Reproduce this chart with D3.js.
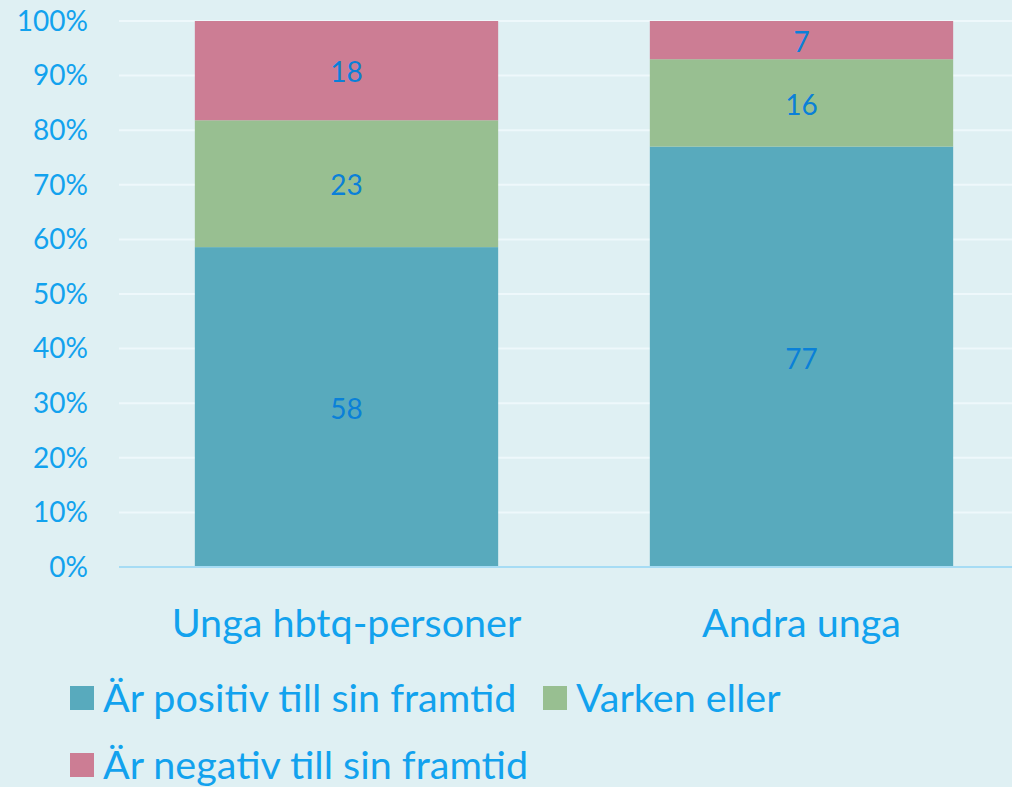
<!DOCTYPE html>
<html>
<head>
<meta charset="utf-8">
<script src="https://cdn.jsdelivr.net/npm/d3@7"></script>
<style>
  body { margin: 0; background: #dff0f3; }
  svg { display: block; font-family: Lato, "Open Sans", sans-serif; }
</style>
</head>
<body>
<script>
const width = 1012;
const height = 787;

const categories = ["Unga hbtq-personer", "Andra unga"];
const seriesNames = ["Är positiv till sin framtid", "Varken eller", "Är negativ till sin framtid"];
const positive = [58, 77];
const neither = [23, 16];
const negative = [18, 7];
const yTicks = [0, 0.1, 0.2, 0.3, 0.4, 0.5, 0.6, 0.7, 0.8, 0.9, 1];

const colors = ["#58aabd", "#98bf91", "#cc7d94"];
const textColor = "#12a2ee";
const labelColor = "#0a80d8";

const rows = categories.map((c, i) => ({
  category: c,
  [seriesNames[0]]: positive[i],
  [seriesNames[1]]: neither[i],
  [seriesNames[2]]: negative[i]
}));

const stack = d3.stack().keys(seriesNames).offset(d3.stackOffsetExpand);
const series = stack(rows);

const x = d3.scaleBand()
  .domain(categories)
  .range([119, 1029])
  .paddingInner(1 / 3)
  .paddingOuter(1 / 6);

const y = d3.scaleLinear()
  .domain([0, 1])
  .range([567, 21]);

const svg = d3.select("body")
  .append("svg")
  .attr("width", width)
  .attr("height", height);

// gridlines
svg.append("g")
  .selectAll("line")
  .data(yTicks.filter(d => d > 0))
  .join("line")
  .attr("x1", 119)
  .attr("x2", width)
  .attr("y1", d => y(d))
  .attr("y2", d => y(d))
  .attr("stroke", "#eef8fb")
  .attr("stroke-width", 2);

// bars
svg.append("g")
  .selectAll("g")
  .data(series)
  .join("g")
  .attr("fill", (d, i) => colors[i])
  .selectAll("rect")
  .data(d => d)
  .join("rect")
  .attr("x", d => x(d.data.category))
  .attr("width", x.bandwidth())
  .attr("y", d => y(d[1]))
  .attr("height", d => y(d[0]) - y(d[1]));

// baseline
svg.append("line")
  .attr("x1", 119)
  .attr("x2", width)
  .attr("y1", y(0))
  .attr("y2", y(0))
  .attr("stroke", "#a6dcf4")
  .attr("stroke-width", 2);

// data labels
svg.append("g")
  .selectAll("g")
  .data(series)
  .join("g")
  .selectAll("text")
  .data(d => d.map(p => ({ p, key: d.key })))
  .join("text")
  .attr("x", d => x(d.p.data.category) + x.bandwidth() / 2)
  .attr("y", d => y((d.p[0] + d.p[1]) / 2) + 2)
  .attr("dy", "0.35em")
  .attr("text-anchor", "middle")
  .attr("fill", labelColor)
  .attr("font-size", 28)
  .text(d => d.p.data[d.key]);

// y axis labels
svg.append("g")
  .selectAll("text")
  .data(yTicks)
  .join("text")
  .attr("x", 88)
  .attr("y", d => y(d))
  .attr("dy", "0.35em")
  .attr("text-anchor", "end")
  .attr("fill", textColor)
  .attr("font-size", 28)
  .text(d => d3.format(".0%")(d));

// category labels
svg.append("g")
  .selectAll("text")
  .data(categories)
  .join("text")
  .attr("x", d => x(d) + x.bandwidth() / 2)
  .attr("y", 623)
  .attr("dy", "0.35em")
  .attr("text-anchor", "middle")
  .attr("fill", textColor)
  .attr("font-size", 39.5)
  .text(d => d);

// legend
const legendPos = [[70, 698], [543, 698], [70, 765]];
const legend = svg.append("g")
  .selectAll("g")
  .data(seriesNames)
  .join("g")
  .attr("transform", (d, i) => `translate(${legendPos[i][0]},${legendPos[i][1]})`);

legend.append("rect")
  .attr("x", 0)
  .attr("y", -12)
  .attr("width", 24)
  .attr("height", 24)
  .attr("fill", (d, i) => colors[i]);

legend.append("text")
  .attr("x", 33)
  .attr("y", 0)
  .attr("dy", "0.35em")
  .attr("fill", textColor)
  .attr("font-size", 39.5)
  .text(d => d);
</script>
</body>
</html>
